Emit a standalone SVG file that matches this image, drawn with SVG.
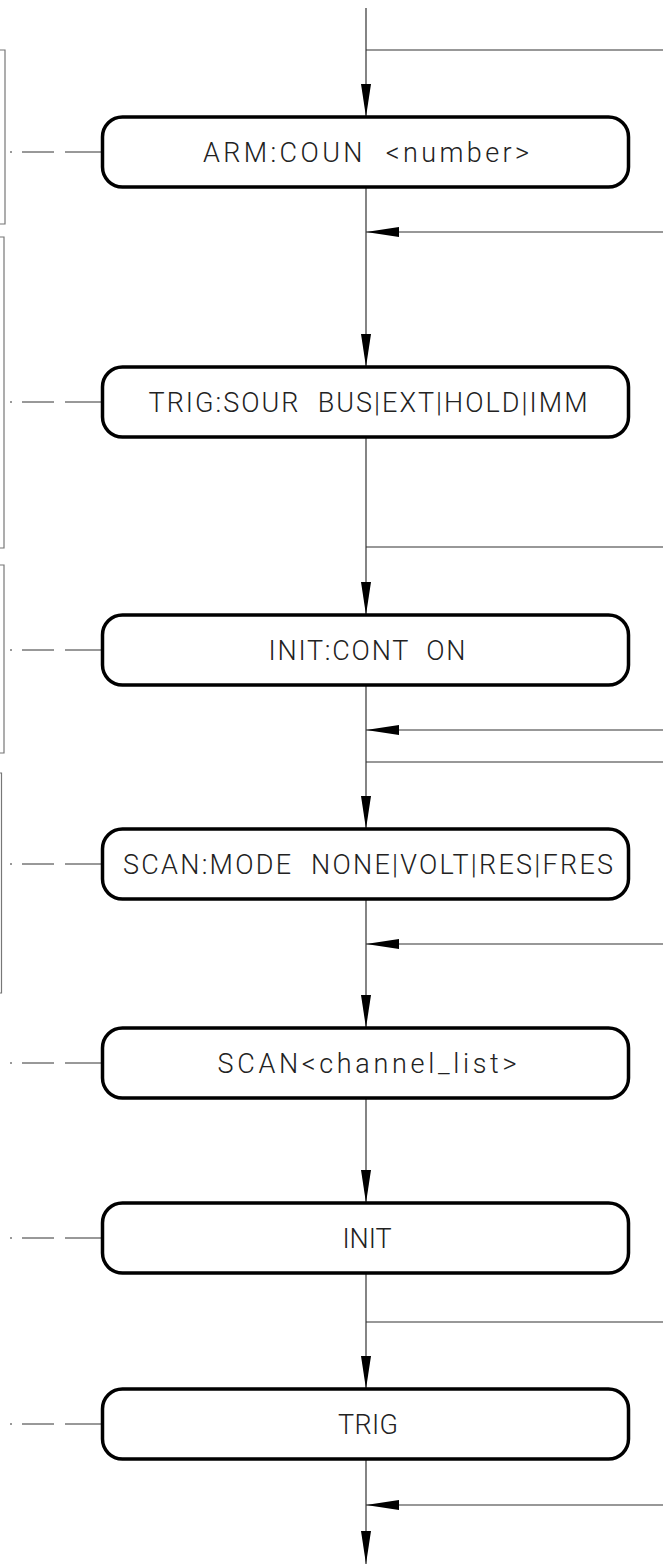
<svg xmlns="http://www.w3.org/2000/svg" width="663" height="1565" viewBox="0 0 663 1565">
<style>
.node rect{fill:#fff;stroke:#000;stroke-width:3.5}
.node text{font-family:Roboto,"Liberation Sans",sans-serif;font-weight:300;font-size:27px;fill:#222;text-anchor:middle;white-space:pre}
.lead{fill:none;stroke:#333;stroke-width:1;stroke-dasharray:2 10 32 11 60}
.conn line{stroke:#333;stroke-width:1.2}
.bracket{fill:none;stroke:#777;stroke-width:1.2}
</style>
<defs>
<marker id="ah" markerUnits="userSpaceOnUse" markerWidth="34" markerHeight="11" refX="33" refY="5" orient="auto">
<path d="M0,0 L33,5 L0,10 Z" fill="#000"/>
</marker>
</defs>
<rect width="663" height="1565" fill="#fff"/>
<g id="brackets">
<path class="bracket" d="M0,50 H5 V224 H0"/>
<path class="bracket" d="M0,237 H4 V548 H0"/>
<path class="bracket" d="M0,565 H4 V753 H0"/>
<path class="bracket" d="M0,773 H1.5 V993 H0"/>
</g>
<g id="leaders">
<path class="lead" d="M10,152 H102"/>
<path class="lead" d="M10,402 H102"/>
<path class="lead" d="M10,650 H102"/>
<path class="lead" d="M10,864 H102"/>
<path class="lead" d="M10,1063 H102"/>
<path class="lead" d="M10,1238 H102"/>
<path class="lead" d="M10,1424 H102"/>
</g>
<g id="connectors" class="conn">
<line x1="366" y1="8" x2="366" y2="117" marker-end="url(#ah)"/>
<line x1="366" y1="50" x2="663" y2="50"/>
<line x1="366" y1="187" x2="366" y2="367" marker-end="url(#ah)"/>
<line x1="663" y1="232" x2="366" y2="232" marker-end="url(#ah)"/>
<line x1="366" y1="437" x2="366" y2="615" marker-end="url(#ah)"/>
<line x1="366" y1="547" x2="663" y2="547"/>
<line x1="366" y1="685" x2="366" y2="829" marker-end="url(#ah)"/>
<line x1="663" y1="730" x2="366" y2="730" marker-end="url(#ah)"/>
<line x1="366" y1="762" x2="663" y2="762"/>
<line x1="366" y1="899" x2="366" y2="1028" marker-end="url(#ah)"/>
<line x1="663" y1="944" x2="366" y2="944" marker-end="url(#ah)"/>
<line x1="366" y1="1098" x2="366" y2="1203" marker-end="url(#ah)"/>
<line x1="366" y1="1273" x2="366" y2="1389" marker-end="url(#ah)"/>
<line x1="366" y1="1322" x2="663" y2="1322"/>
<line x1="366" y1="1459" x2="366" y2="1564" marker-end="url(#ah)"/>
<line x1="663" y1="1505" x2="366" y2="1505" marker-end="url(#ah)"/>
</g>
<g id="n1" class="node"><rect x="102.5" y="117" width="526" height="70" rx="20"/><text x="366" y="162" textLength="326" lengthAdjust="spacing">ARM:COUN  &lt;number&gt;</text></g>
<g id="n2" class="node"><rect x="102.5" y="367" width="526" height="70" rx="20"/><text x="368" y="412" textLength="439" lengthAdjust="spacing">TRIG:SOUR  BUS|EXT|HOLD|IMM</text></g>
<g id="n3" class="node"><rect x="102.5" y="615" width="526" height="70" rx="20"/><text x="367" y="660" textLength="197" lengthAdjust="spacing">INIT:CONT  ON</text></g>
<g id="n4" class="node"><rect x="102.5" y="829" width="526" height="70" rx="20"/><text x="368" y="874" textLength="490" lengthAdjust="spacing">SCAN:MODE  NONE|VOLT|RES|FRES</text></g>
<g id="n5" class="node"><rect x="102.5" y="1028" width="526" height="70" rx="20"/><text x="367" y="1073" textLength="299" lengthAdjust="spacing">SCAN&lt;channel_list&gt;</text></g>
<g id="n6" class="node"><rect x="102.5" y="1203" width="526" height="70" rx="20"/><text x="367" y="1248" textLength="49" lengthAdjust="spacing">INIT</text></g>
<g id="n7" class="node"><rect x="102.5" y="1389" width="526" height="70" rx="20"/><text x="368" y="1434" textLength="60" lengthAdjust="spacing">TRIG</text></g>
</svg>
